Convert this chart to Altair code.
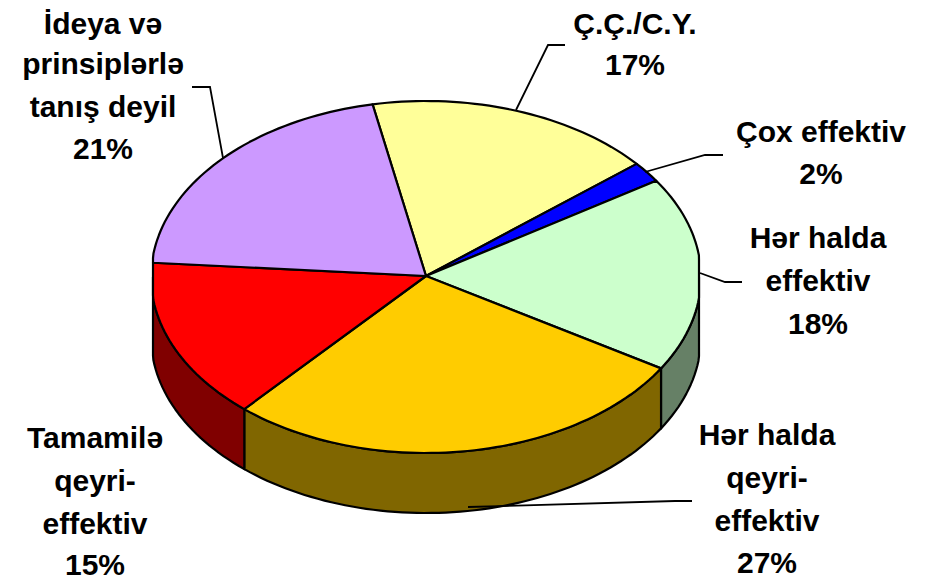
import math
import altair as alt

# Chart values
categories = ["Ç.Ç./C.Y.", "Çox effektiv", "Hər halda effektiv", "Hər halda qeyri-effektiv",
              "Tamamilə qeyri-effektiv", "İdeya və prinsiplərlə tanış deyil"]
# Slice sweeps (the printed labels are rounded and the tilt distorts them)
shares = [17.0, 1.9, 17.9, 27.8, 14.8, 20.6]
top_colors = ["#FFFF99", "#0000FF", "#CCFFCC", "#FFCC00", "#FF0000", "#CC99FF"]
side_colors = [None, None, "#668066", "#806600", "#800000", None]

# Label lines: text, centre x, baseline y (page pixels)
label_text = ["İdeya və", "prinsiplərlə", "tanış deyil", "21%",
              "Ç.Ç./C.Y.", "17%", "Çox effektiv", "2%",
              "Hər halda", "effektiv", "18%",
              "Hər halda", "qeyri-", "effektiv", "27%",
              "Tamamilə", "qeyri-", "effektiv", "15%"]
label_x = [103, 103, 103, 103, 635, 635, 821, 821, 818, 818, 818,
           767, 767, 767, 767, 95, 95, 95, 95]
label_y = [34, 74, 117, 159, 34, 75, 142, 184, 248, 291, 334,
           445, 488, 531, 573, 448, 491, 534, 575]

# Leader lines as page-pixel vertices
leaders = [
    [(192, 87), (210, 87), (223, 158)],
    [(565, 45), (548, 45), (516, 110)],
    [(723, 155), (705, 155), (645, 172)],
    [(742, 282), (725, 282), (700, 273)],
    [(692, 501), (675, 501), (468, 507)],
]

# Layout of the tilted pie
CX, CY, RX, RY, DEPTH = 426.0, 277.0, 275.0, 176.0, 60.0
APEX = (426.0, 276.0)
START = -11.2
MARGIN = 8
W, H = 910, 572


def pt(t, dy=0.0):
    r = math.radians(t)
    x = CX + RX * math.sin(r)
    x = min(max(x, 153.0), 699.0)
    return [x - MARGIN, CY - RY * math.cos(r) + dy - MARGIN]


def arc(a, b, dy=0.0):
    n = max(2, int(abs(b - a) / 1.5))
    return [pt(a + (b - a) * i / n, dy) for i in range(n + 1)]


def feature(geom_type, coords, color):
    return {"type": "Feature", "geometry": {"type": geom_type, "coordinates": coords},
            "properties": {"color": color}}


edges = [START]
for s in shares:
    edges.append(edges[-1] + s * 3.6)

apex = [APEX[0] - MARGIN, APEX[1] - MARGIN]
tops, sides = [], []
for i, c in enumerate(top_colors):
    a, b = edges[i], edges[i + 1]
    ring = [apex] + arc(a, b) + [apex]
    tops.append(feature("Polygon", [ring], c))
    if side_colors[i]:
        lo, hi = max(a, 90.0), min(b, 270.0)
        upper = arc(lo, hi)
        lower = arc(lo, hi, DEPTH)[::-1]
        sides.append(feature("Polygon", [upper + lower + [upper[0]]], side_colors[i]))

leader_feats = [feature("LineString", [[x - MARGIN, y - MARGIN] for x, y in l], "black")
                for l in leaders]

proj = dict(type="identity", scale=1, translate=[0, 0])

shapes = (
    alt.Chart(alt.Data(values=sides + tops))
    .mark_geoshape(stroke="black", strokeWidth=2.2, strokeJoin="round")
    .encode(fill=alt.Fill("properties.color:N", scale=None, legend=None))
    .project(**proj)
)
lines = (
    alt.Chart(alt.Data(values=leader_feats))
    .mark_geoshape(filled=False, stroke="black", strokeWidth=1.8)
    .project(**proj)
)
label_rows = [{"t": t, "x": x - MARGIN, "y": y - MARGIN}
              for t, x, y in zip(label_text, label_x, label_y)]
labels = (
    alt.Chart(alt.Data(values=label_rows))
    .mark_text(font="Liberation Sans", fontWeight="bold", fontSize=30, color="black",
               align="center", baseline="alphabetic")
    .encode(x=alt.X("x:Q", scale=None, axis=None), y=alt.Y("y:Q", scale=None, axis=None),
            text="t:N")
)

chart = (
    alt.layer(shapes, lines, labels)
    .properties(width=W, height=H, padding=0, autosize=alt.AutoSizeParams(type="none"))
    .configure_view(stroke=None)
)
chart.save("out.html", embed_options={"renderer": "svg", "actions": False})
